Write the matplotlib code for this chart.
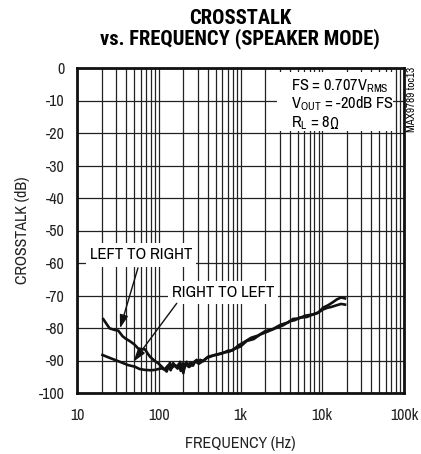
import matplotlib
matplotlib.use("Agg")
import matplotlib.pyplot as plt
from matplotlib.patches import Rectangle
from matplotlib.ticker import FixedLocator, NullFormatter

FAM = ['Archivo Narrow', 'Roboto Condensed', 'PT Sans Narrow', 'DejaVu Sans']
TITLE_FAM = ['Roboto Condensed', 'Encode Sans Semi Condensed', 'Barlow Semi Condensed', 'DejaVu Sans']
plt.rcParams['font.family'] = FAM
plt.rcParams['mathtext.fontset'] = 'custom'
plt.rcParams['mathtext.rm'] = 'Archivo Narrow'

# ---------------- data ----------------
freq_ltr = [21, 25, 29, 32, 36, 39, 44, 50, 56, 62, 68, 73, 78, 88, 99, 114, 125,
            137, 145, 158, 170, 182, 190, 200, 210, 220, 235, 253, 270, 291, 310,
            335, 370, 404, 440, 488, 540, 617, 740, 810, 1000, 1190, 1450, 1740,
            2100, 2770, 3300, 4040, 4600, 5350, 6500, 7760, 9000, 10300, 11800,
            13600, 15100, 17000, 19000]
xt_ltr = [-77.3, -80.1, -80.6, -80.8, -82.5, -83.2, -84.0, -85.0, -86.3, -86.5,
          -86.6, -87.8, -88.8, -90.0, -90.9, -92.4, -93.4,
          -90.7, -92.2, -91.4, -92.5, -90.4, -91.8, -93.9, -91.0, -90.4, -92.0,
          -91.4, -90.5, -89.8, -91.0, -90.4, -89.6, -88.8, -88.6, -88.3, -88.0,
          -87.6, -87.2, -86.6, -85.7, -84.0, -83.4, -82.0, -81.2, -79.9, -79.2,
          -77.9, -77.6, -76.8, -76.6, -75.8, -75.2, -73.7, -73.0, -72.0, -71.2,
          -70.6, -70.9]

freq_rtl = [20.5, 24, 29, 35, 42, 51, 58, 68, 80, 90, 100, 108, 118,
            130, 140, 150, 162, 175, 186, 196, 205, 216, 228, 245, 262, 280, 300,
            322, 350, 385, 420, 470, 520, 600, 700, 800, 950, 1100, 1350, 1650,
            2000, 2500, 3100, 3800, 4400, 5100, 6200, 7400, 8600, 10000, 11500,
            13000, 15000, 17000, 19000]
xt_rtl = [-88.3, -89.0, -89.8, -90.6, -91.4, -91.9, -92.6, -92.9, -93.0, -92.9,
          -92.6, -92.4, -92.8,
          -91.5, -93.0, -90.8, -92.0, -91.2, -93.2, -90.9, -92.4, -91.0, -91.8,
          -90.6, -91.6, -90.2, -90.8, -89.8, -90.2, -89.2, -88.9, -88.4, -88.2,
          -87.8, -87.0, -86.9, -85.3, -84.4, -83.0, -82.3, -81.0, -80.3, -79.0,
          -78.3, -77.2, -77.1, -76.2, -75.9, -75.5, -74.4, -73.8, -73.5, -73.0,
          -72.6, -72.8]

x_ticks = [10, 100, 1000, 10000, 100000]
x_ticklabels = ['10', '100', '1k', '10k', '100k']
y_ticks = [0, -10, -20, -30, -40, -50, -60, -70, -80, -90, -100]
y_ticklabels = ['0', '-10', '-20', '-30', '-40', '-50', '-60', '-70', '-80', '-90', '-100']

# ---------------- figure ----------------
fig = plt.figure(figsize=(4.21, 4.54), dpi=100)
ax = fig.add_axes([77/421, 1-393/454, 327/421, 325/454])

ax.set_xscale('log')
ax.set_xlim(10, 100000)
ax.set_ylim(-100, 0)

minors = [m * 10**d for d in range(1, 5) for m in range(2, 10)]
ax.xaxis.set_major_locator(FixedLocator(x_ticks))
ax.xaxis.set_minor_locator(FixedLocator(minors))
ax.xaxis.set_minor_formatter(NullFormatter())
ax.set_xticks(x_ticks)
ax.set_xticklabels(x_ticklabels)
ax.set_yticks(y_ticks)
ax.set_yticklabels(y_ticklabels)
ax.tick_params(which='both', length=0, labelsize=11.5, pad=9, colors='#222222')
ax.tick_params(axis='x', pad=11)

ax.set_axisbelow(True)
ax.grid(which='major', axis='both', color='#222222', lw=0.9)
ax.grid(which='minor', axis='x', color='#222222', lw=0.9)

for s in ax.spines.values():
    s.set_linewidth(2.0)
    s.set_color('#111111')

ax.plot(freq_ltr, xt_ltr, color='#111111', lw=1.9, zorder=3, solid_joinstyle='round')
ax.plot(freq_rtl, xt_rtl, color='#111111', lw=1.9, zorder=3, solid_joinstyle='round')

# white box behind conditions text
ax.add_patch(Rectangle((0.612, 0.806), 0.354, 0.182, transform=ax.transAxes,
                       facecolor='white', edgecolor='none', zorder=1.5))
cond_fs = 11.8
ax.text(4110, -5.5, r'FS = 0.707V$_{\mathregular{RMS}}$', fontsize=cond_fs, va='center', ha='left', zorder=4)
ax.text(4110, -11.0, r'V$_{\mathregular{OUT}}$ = -20dB FS', fontsize=cond_fs, va='center', ha='left', zorder=4)
t_rl = ax.text(4110, -16.9, r'R$_{\mathregular{L}}$ = 8', fontsize=cond_fs, va='center', ha='left', zorder=4)
ax.annotate('Ω', xy=(1, 0), xycoords=t_rl, xytext=(-0.8, 0), textcoords='offset points',
            fontsize=cond_fs - 0.5, family=['Roboto Condensed', 'DejaVu Sans'],
            va='bottom', ha='left', zorder=4)

bbox = dict(facecolor='white', edgecolor='none', pad=3)
ax.text(60.6, -57.5, 'LEFT TO RIGHT', fontsize=12, ha='center', va='center', bbox=bbox, zorder=4)
ax.text(611, -69.1, 'RIGHT TO LEFT', fontsize=12, ha='center', va='center', bbox=bbox, zorder=4)

arrow = dict(arrowstyle='-|>,head_length=0.8,head_width=0.25', color='#111111', lw=1.0,
             shrinkA=0, shrinkB=0)
ax.annotate('', xy=(33.6, -80.1), xytext=(55.7, -61.5), arrowprops=arrow, zorder=4)
ax.annotate('', xy=(48.9, -90.4), xytext=(166, -72.4), arrowprops=arrow, zorder=4)

ax.set_xlabel('FREQUENCY (Hz)', fontsize=11.5, labelpad=9, color='#222222')
ax.set_ylabel('CROSSTALK (dB)', fontsize=11.5, labelpad=6, color='#222222')

fig.text(240/421, 1-18/454, 'CROSSTALK', fontsize=14.8, fontweight='bold', family=TITLE_FAM,
         ha='center', va='center')
fig.text(240/421, 1-39/454, 'vs. FREQUENCY (SPEAKER MODE)', fontsize=14.8, fontweight='bold',
         family=TITLE_FAM, ha='center', va='center')
fig.text(412/421, 1-67/454, 'MAX9789 toc13', fontsize=8, rotation=90, ha='center', va='top')

fig.savefig('out.png', dpi=100)
